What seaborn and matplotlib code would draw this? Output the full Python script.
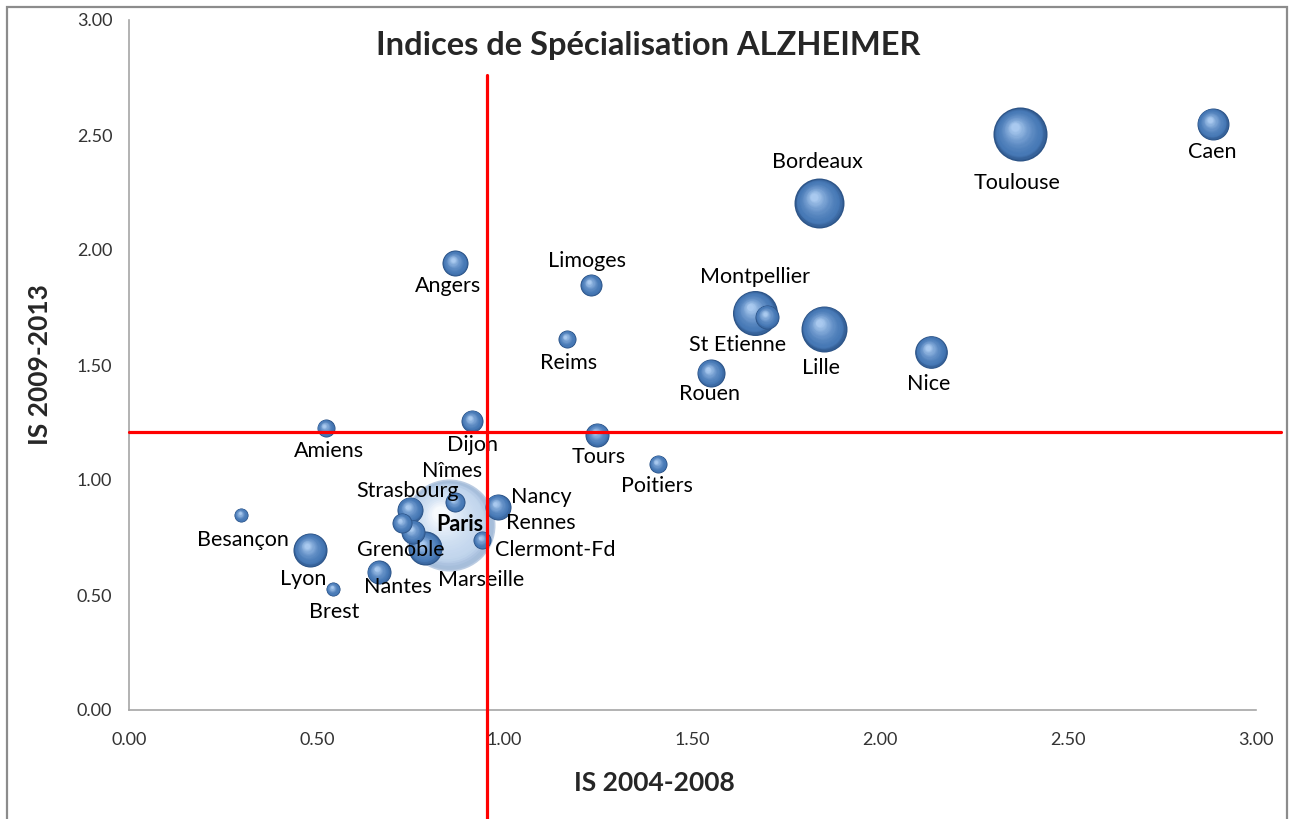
import numpy as np
import pandas as pd
import matplotlib as mpl
mpl.use('Agg')
import matplotlib.pyplot as plt
import seaborn as sns
from matplotlib.colors import to_rgb
from matplotlib.patches import Rectangle

# data
cities = ['Paris', 'Toulouse', 'Bordeaux', 'Lille', 'Montpellier', 'Grenoble', 'Lyon',
          'Nice', 'Caen', 'Rouen', 'Angers', 'Nancy', 'Strasbourg', 'Tours', 'Nantes',
          'St Etienne', 'Marseille', 'Limoges', 'Dijon', 'Nîmes', 'Rennes', 'Reims',
          'Amiens', 'Poitiers', 'Clermont-Fd', 'Besançon', 'Brest']
is_2004_2008 = [0.852, 2.372, 1.837, 1.850, 1.666, 0.788, 0.482,
                2.135, 2.885, 1.549, 0.868, 0.982, 0.748, 1.247, 0.665,
                1.698, 0.756, 1.230, 0.913, 0.868, 0.727, 1.166,
                0.524, 1.408, 0.940, 0.298, 0.543]
is_2009_2013 = [0.804, 2.504, 2.204, 1.657, 1.726, 0.704, 0.696,
                1.557, 2.548, 1.465, 1.943, 0.883, 0.870, 1.196, 0.600,
                1.709, 0.774, 1.848, 1.257, 0.904, 0.813, 1.613,
                1.226, 1.070, 0.739, 0.848, 0.526]
weight = [100, 34.5, 29.5, 25.0, 23.9, 13.7, 13.7,
          12.6, 12.1, 9.3, 8.0, 8.0, 8.0, 6.8, 6.8,
          6.8, 6.8, 5.7, 5.7, 4.7, 4.7, 3.8,
          3.8, 3.8, 3.8, 2.3, 2.3]
ref_x = 0.953
ref_y = 1.209
ticks = [0.0, 0.5, 1.0, 1.5, 2.0, 2.5, 3.0]

# label placement relative to bubble centre (pixels, right / down)
label_offsets = {
    'Caen': (-1, 28), 'Toulouse': (-3, 49), 'Bordeaux': (-2, -41), 'Limoges': (-4, -24),
    'Angers': (-7, 23), 'Montpellier': (0, -36), 'St Etienne': (-29, 28), 'Lille': (-3, 39),
    'Nice': (-2, 32), 'Rouen': (-1, 21), 'Reims': (2, 24), 'Dijon': (1, 24),
    'Amiens': (3, 23), 'Tours': (1, 22), 'Poitiers': (-1, 22), 'Nîmes': (-3, -31),
    'Strasbourg': (-2, -19), 'Nancy': (43, -10), 'Rennes': (139, 0), 'Paris': (11, -1),
    'Clermont-Fd': (73, 10), 'Grenoble': (-24, 2), 'Marseille': (68, 48),
    'Besançon': (2, 25), 'Lyon': (-7, 29), 'Nantes': (19, 15), 'Brest': (1, 23),
}

df = pd.DataFrame({'city': cities, 'x': is_2004_2008, 'y': is_2009_2013, 'w': weight})
df = df.sort_values('w', ascending=False).reset_index(drop=True)

sns.set_style('white')
plt.rcParams['font.family'] = ['Lato', 'DejaVu Sans']

DPI = 100
fig = plt.figure(figsize=(12.91, 8.19), dpi=DPI)
ax = fig.add_axes([129 / 1291, 1 - 710 / 819, 1127 / 1291, 690 / 819])
ax.set_xlim(0, 3)
ax.set_ylim(0, 3)

# outer chart frame
fig.patches.append(Rectangle((7 / 1291, -0.01), 1280 / 1291, 1.0 - 7 / 819 + 0.01,
                             transform=fig.transFigure, fill=False,
                             edgecolor='#8c8c8c', linewidth=1.6))


def shade(c0, c1, t):
    a, b = np.array(to_rgb(c0)), np.array(to_rgb(c1))
    return tuple(a + (b - a) * t)


def sphere_layers(sub, dark, mid, light, alpha, zorder, n=26):
    pts = ax.transData.transform(np.column_stack([sub['x'], sub['y']]))
    r_px = 46 * np.sqrt(sub['w'].to_numpy() / 100)
    for i in range(n):
        t = i / (n - 1)
        frac = 1 - 0.85 * t
        shift = (1 - frac) * r_px * 0.42
        cen = pts + np.column_stack([-0.55 * shift, 0.72 * shift])
        cx, cy = ax.transData.inverted().transform(cen).T
        if t < 0.18:
            col = shade(dark, mid, t / 0.18)
        else:
            col = shade(mid, light, ((t - 0.18) / 0.82) ** 1.6)
        s = (2 * r_px * frac * 72 / DPI) ** 2
        sns.scatterplot(x=cx, y=cy, s=s, color=col, linewidth=0, alpha=alpha,
                        ax=ax, legend=False, zorder=zorder)


paris = df[df['city'] == 'Paris']
others = df[df['city'] != 'Paris']
sphere_layers(paris, '#8fabcf', '#c3d7ee', '#fbfdff', 0.6, 2)
for k, idx in enumerate(others.index):
    sphere_layers(others.loc[[idx]], '#2b5285', '#4779b6', '#a9c9ef', 1.0, 3 + k * 0.01)

for _, row in df.iterrows():
    dx, dy = label_offsets[row['city']]
    ax.annotate(row['city'], (row['x'], row['y']), xytext=(dx, -dy),
                textcoords='offset pixels', ha='center', va='center',
                fontsize=15.5, color='black', zorder=10,
                fontweight='bold' if row['city'] == 'Paris' else 'normal')

# reference lines
ax.plot([ref_x, ref_x], [-0.474, 2.761], color='red', lw=2.3, clip_on=False, zorder=20)
ax.plot([0, 3.066], [ref_y, ref_y], color='red', lw=2.3, clip_on=False, zorder=20)

ax.set_xticks(ticks)
ax.set_yticks(ticks)
ax.set_xticklabels([f'{v:.2f}' for v in ticks])
ax.set_yticklabels([f'{v:.2f}' for v in ticks])
ax.tick_params(axis='both', direction='out', length=6, width=1, color='#a6a6a6',
               labelsize=13, labelcolor='#333333')
ax.tick_params(axis='x', pad=10)
ax.tick_params(axis='y', pad=6)
sns.despine(ax=ax)
for side in ['left', 'bottom']:
    ax.spines[side].set_color('#a6a6a6')
    ax.spines[side].set_linewidth(1.2)

ax.set_xlabel('IS 2004-2008', fontsize=19, fontweight='bold')
ax.set_ylabel('IS 2009-2013', fontsize=19, fontweight='bold')
ax.xaxis.set_label_coords((654 - 129) / 1127, (710 - 783) / 690)
ax.yaxis.set_label_coords((40 - 129) / 1127, 0.5)
ax.xaxis.label.set_va('center')
ax.yaxis.label.set_va('center')
fig.text(648 / 1291, 1 - 45 / 819, 'Indices de Spécialisation ALZHEIMER',
         ha='center', va='center', fontsize=23.5, fontweight='bold')

fig.savefig('out.png', dpi=DPI)
